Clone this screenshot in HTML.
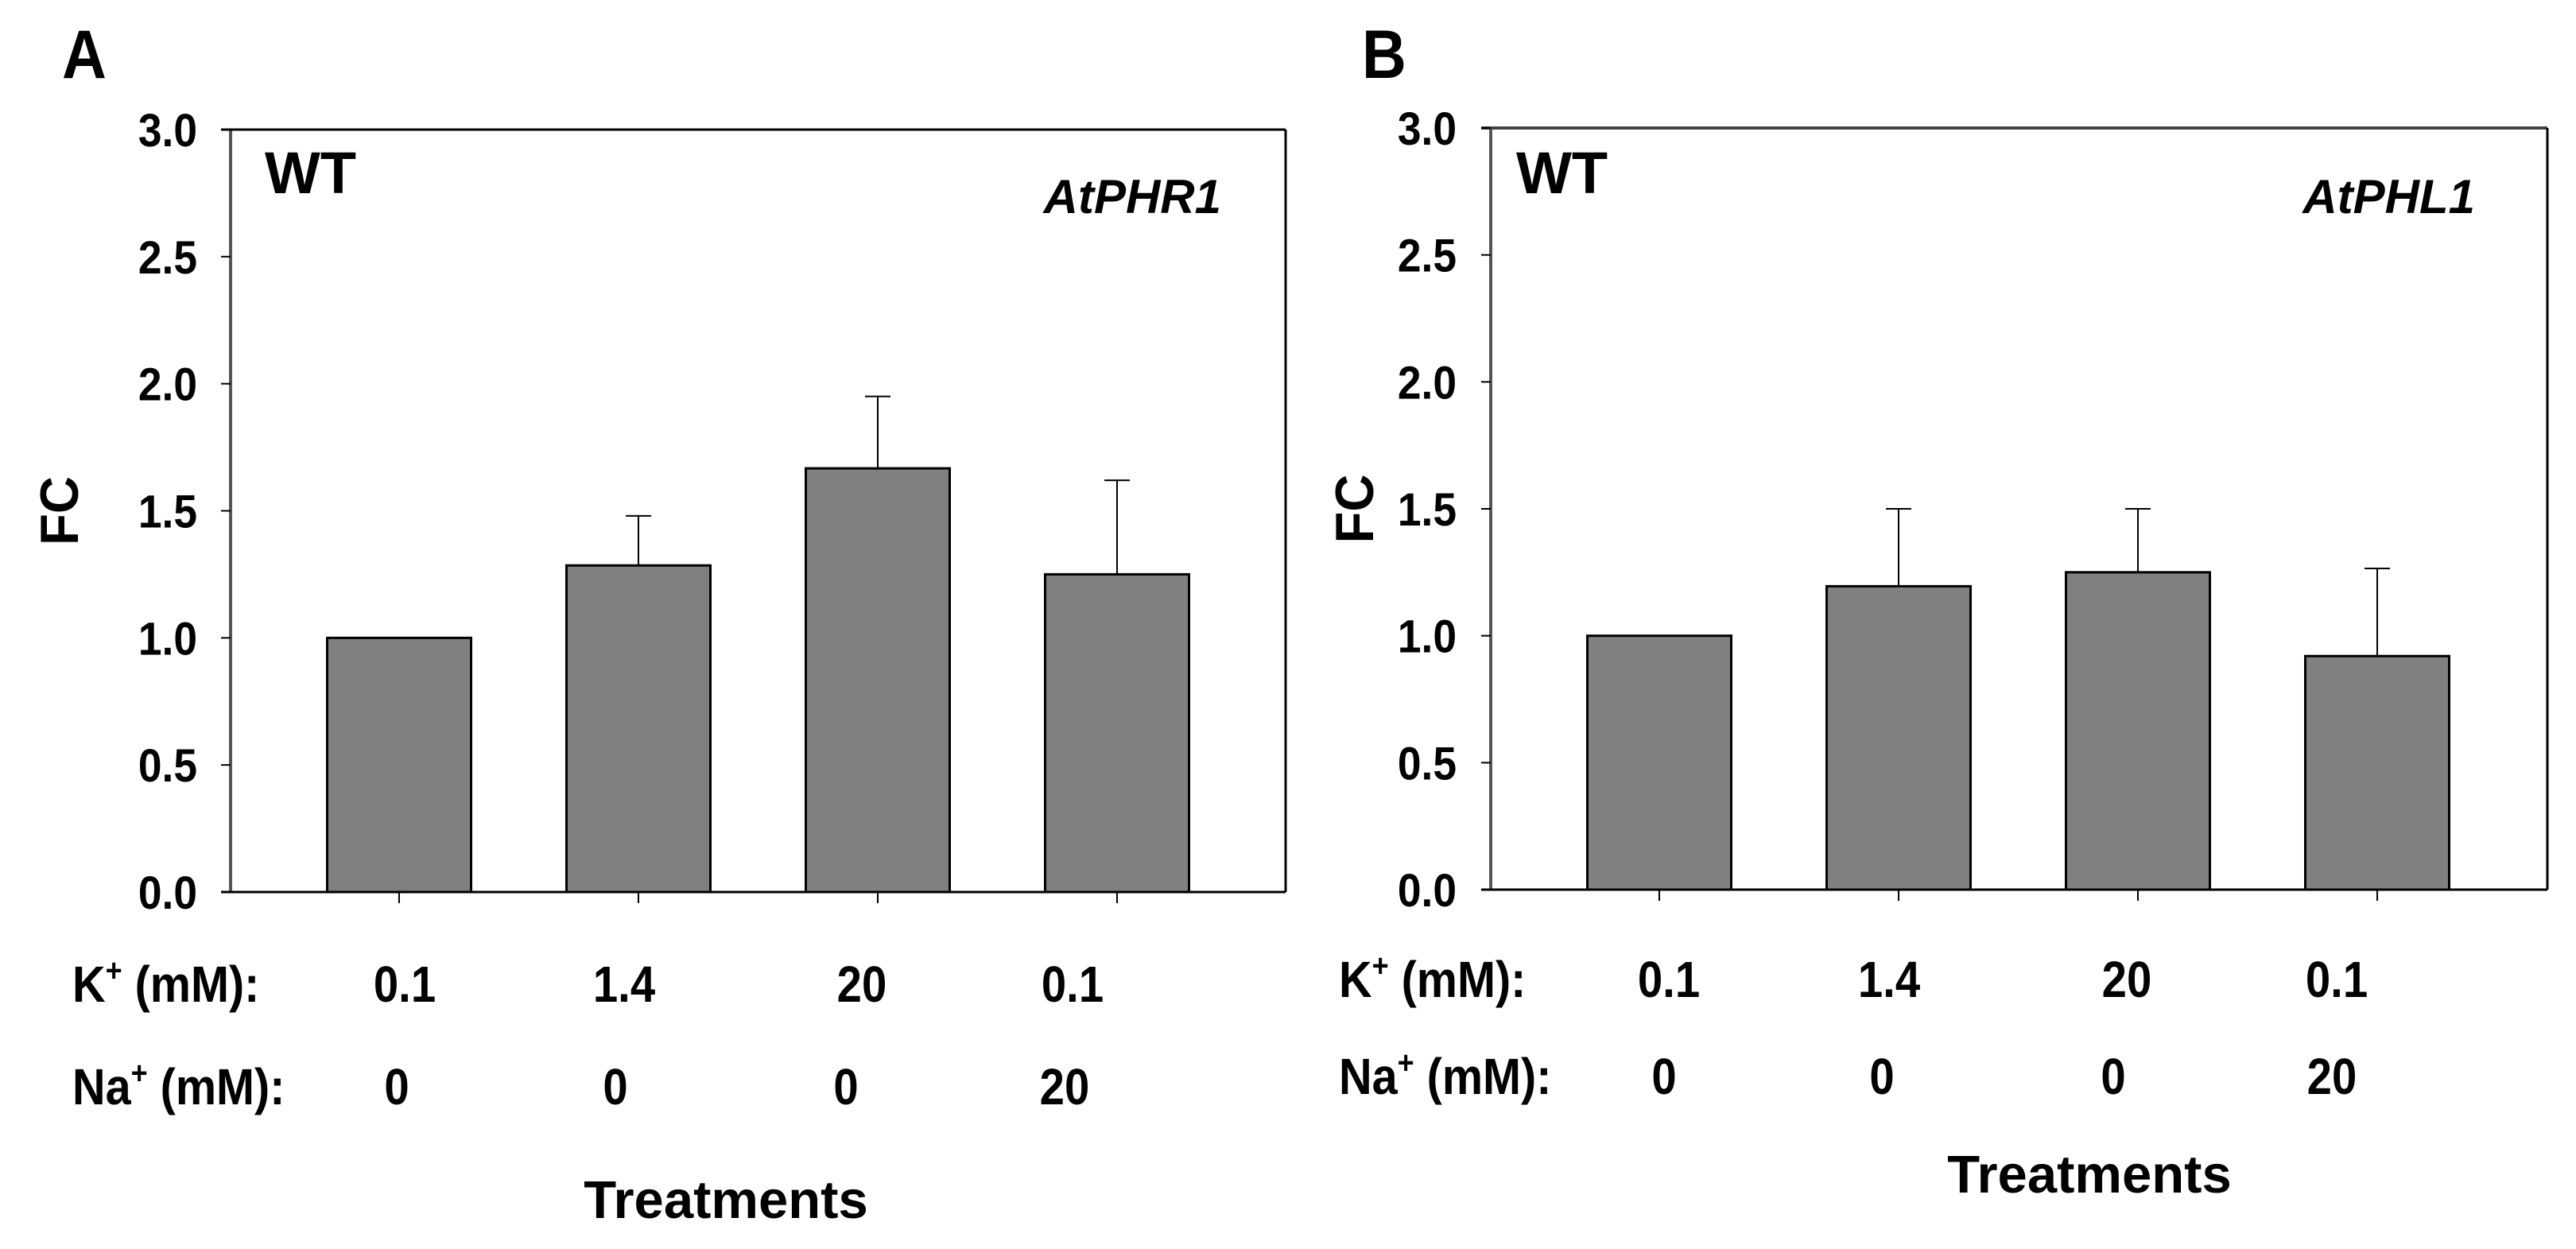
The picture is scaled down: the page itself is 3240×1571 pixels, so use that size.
<!DOCTYPE html>
<html><head><meta charset="utf-8"><style>
html,body{margin:0;padding:0;background:#fff}
svg{display:block}
text{font-family:"Liberation Sans",Arial,sans-serif;font-weight:bold;fill:#000}
</style></head><body>
<svg id="fig" width="3240" height="1571" viewBox="0 0 3240 1571" xmlns="http://www.w3.org/2000/svg"></svg>
<script>
const categories = ["T1","T2","T3","T4"];
const kLabels = ["0.1","1.4","20","0.1"];
const naLabels = ["0","0","0","20"];
const yTicks = [0,0.5,1.0,1.5,2.0,2.5,3.0];
const valuesA = [1.0,1.285,1.667,1.25];
const errTopA = [null,1.48,1.95,1.62];
const valuesB = [1.0,1.195,1.25,0.92];
const errTopB = [null,1.5,1.5,1.265];

const NS="http://www.w3.org/2000/svg";
const svg=document.getElementById('fig');
function mk(tag,attrs,parent){const e=document.createElementNS(NS,tag);for(const k in attrs)e.setAttribute(k,attrs[k]);(parent||svg).appendChild(e);return e;}
function txt(parent,x,y,size,anchor,sx,extra){
  const a={x:0,y:0,'font-size':size,'text-anchor':anchor||'start',transform:`translate(${x},${y}) scale(${sx},1)`};
  if(extra)for(const k in extra)a[k]=extra[k];
  return mk('text',a,parent);
}

const panels=[
 {id:'a',letter:'A',letterX:78,gene:'AtPHR1',left:290,right:1617,top:163,bottom:1122,first:502,tickLblX:248,fcX:98,wtX:333,geneX:1536,
  kX:91,kVals:[509,785,1084,1349],naVals:[499,774,1064,1339],kY:1260,naY:1389,trX:913,trY:1532,vals:valuesA,errs:errTopA,topGrey:false},
 {id:'b',letter:'B',letterX:1713,gene:'AtPHL1',left:1875,right:3204,top:161,bottom:1119,first:2087,tickLblX:1832,fcX:1727,wtX:1907,geneX:3113,
  kX:1684,kVals:[2099,2376,2675,2939],naVals:[2093,2367,2658,2933],kY:1254,naY:1376,trX:2628,trY:1500,vals:valuesB,errs:errTopB,topGrey:true}
];

panels.forEach(p=>{
  const g=mk('g',{});
  
  
  const y=v=>p.bottom-(v/3)*(p.bottom-p.top);
  const x=i=>p.first+i*301;
  const bw=181;
  let t;
  t=txt(g,p.letterX,98,86,'start',0.9);t.textContent=p.letter;
  
  
  let l=mk('line',{x1:p.left,y1:p.top,x2:p.left,y2:p.bottom,stroke:'#555','stroke-width':4},g);
  
  
  l=mk('line',{x1:p.left-12,y1:p.bottom,x2:p.right,y2:p.bottom,stroke:'#000','stroke-width':3},g);
  
  
  l=mk('line',{x1:p.left-12,y1:p.top,x2:p.right,y2:p.top,stroke:p.topGrey?'#444':'#000','stroke-width':p.topGrey?4:3},g);
  
  
  l=mk('line',{x1:p.right,y1:p.top,x2:p.right,y2:p.bottom,stroke:'#000','stroke-width':3},g);
  
  
  yTicks.forEach(v=>{
    const tk=mk('line',{x1:p.left-12,y1:y(v),x2:p.left,y2:y(v),stroke:'#000','stroke-width':2},g);
    
    
    const tl=txt(g,p.tickLblX,y(v)+21,58,'end',0.92);
    tl.textContent=v.toFixed(1);
    
    
  });
  t=mk('text',{x:0,y:0,'font-size':68,'text-anchor':'middle',transform:`translate(${p.fcX},${(p.top+p.bottom)/2}) rotate(-90) scale(0.96,1)`},g);
  t.textContent='FC';
  
  
  t=mk('text',{x:p.wtX,y:243,'font-size':74},g);t.textContent='WT';
  
  
  t=mk('text',{x:p.geneX,y:268,'font-size':60,'font-style':'italic','text-anchor':'end'},g);t.textContent=p.gene;
  
  
  categories.forEach((c,i)=>{
    const cx=x(i);
    const r=mk('rect',{x:cx-bw/2,y:y(p.vals[i]),width:bw,height:p.bottom-y(p.vals[i]),fill:'#808080',stroke:'#000','stroke-width':3},g);
    
    
    if(p.errs[i]!==null){
      const e=mk('path',{d:`M${cx},${y(p.vals[i])}V${y(p.errs[i])}M${cx-16},${y(p.errs[i])}H${cx+16}`,stroke:'#000','stroke-width':2,fill:'none'},g);
      
      
    }
    const tk=mk('line',{x1:cx,y1:p.bottom,x2:cx,y2:p.bottom+14,stroke:'#000','stroke-width':2},g);
    
    
    const kt=txt(g,p.kVals[i],p.kY,64,'middle',0.88);kt.textContent=kLabels[i];
    
    
    const nt=txt(g,p.naVals[i],p.naY,64,'middle',0.88);nt.textContent=naLabels[i];
    
    
  });
  t=txt(g,p.kX,p.kY,64,'start',0.9);
  t.innerHTML='K<tspan dy="-26" font-size="40">+</tspan><tspan dy="26"> (mM):</tspan>';
  
  
  t=txt(g,p.kX,p.naY,64,'start',0.9);
  t.innerHTML='Na<tspan dy="-26" font-size="40">+</tspan><tspan dy="26"> (mM):</tspan>';
  
  
  t=mk('text',{x:p.trX,y:p.trY,'font-size':67,'text-anchor':'middle'},g);t.textContent='Treatments';
  
  
});
</script>
</body></html>
